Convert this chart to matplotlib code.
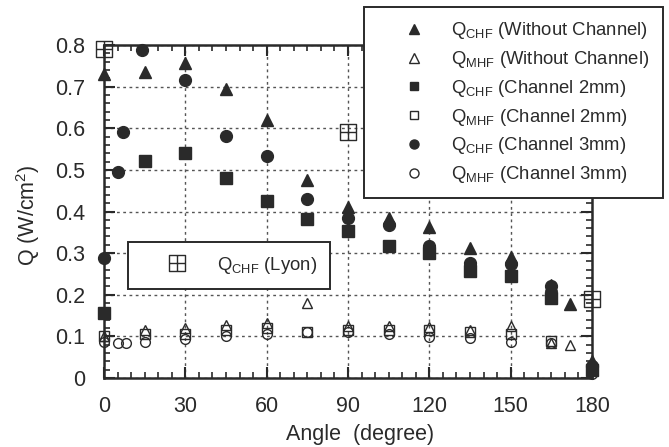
import matplotlib
matplotlib.use("Agg")
import matplotlib.pyplot as plt
from matplotlib.lines import Line2D
from matplotlib.path import Path
from matplotlib.ticker import MultipleLocator, FuncFormatter

# data
ang_wo = [0, 15, 30, 45, 60, 75, 90, 105, 120, 135, 150, 165, 172, 180]
chf_wo = [0.73, 0.735, 0.757, 0.695, 0.62, 0.476, 0.41, 0.385, 0.362, 0.312, 0.29, 0.224, 0.178, 0.04]
mhf_wo = [0.10, 0.115, 0.12, 0.127, 0.133, 0.18, 0.125, 0.125, 0.122, 0.115, 0.125, 0.085, 0.08, 0.02]

ang_2mm = [0, 15, 30, 45, 60, 75, 90, 105, 120, 135, 150, 165, 180]
chf_2mm = [0.155, 0.522, 0.54, 0.481, 0.426, 0.382, 0.352, 0.316, 0.30, 0.256, 0.244, 0.192, 0.02]
mhf_2mm = [0.10, 0.105, 0.105, 0.115, 0.12, 0.111, 0.115, 0.115, 0.115, 0.11, 0.105, 0.09, 0.02]

ang_3mm_chf = [0, 5, 7, 14, 30, 45, 60, 75, 90, 105, 120, 135, 150, 165, 180]
chf_3mm = [0.288, 0.496, 0.59, 0.788, 0.716, 0.582, 0.534, 0.43, 0.384, 0.368, 0.316, 0.276, 0.275, 0.22, 0.03]
ang_3mm_mhf = [0, 5, 8, 15, 30, 45, 60, 75, 90, 105, 120, 135, 150, 165, 180]
mhf_3mm = [0.087, 0.083, 0.083, 0.087, 0.093, 0.10, 0.105, 0.11, 0.11, 0.105, 0.098, 0.095, 0.087, 0.085, 0.01]

ang_lyon = [0, 90, 180]
chf_lyon = [0.79, 0.59, 0.19]

labels = [
    r"Q$_{CHF}$ (Without Channel)",
    r"Q$_{MHF}$ (Without Channel)",
    r"Q$_{CHF}$ (Channel 2mm)",
    r"Q$_{MHF}$ (Channel 2mm)",
    r"Q$_{CHF}$ (Channel 3mm)",
    r"Q$_{MHF}$ (Channel 3mm)",
]
lyon_label = r"Q$_{CHF}$ (Lyon)"

INK = "#2a2a2a"

plt.rcParams["font.family"] = ["Liberation Sans", "DejaVu Sans"]
plt.rcParams["mathtext.default"] = "regular"
plt.rcParams["text.color"] = INK

# square with a cross inside
box_cross = Path(
    [(-1, -1), (1, -1), (1, 1), (-1, 1), (-1, -1), (0, -1), (0, 1), (-1, 0), (1, 0)],
    [Path.MOVETO, Path.LINETO, Path.LINETO, Path.LINETO, Path.CLOSEPOLY,
     Path.MOVETO, Path.LINETO, Path.MOVETO, Path.LINETO],
)

fig = plt.figure(figsize=(6.69, 4.47), dpi=100)
ax = fig.add_axes([104 / 669, 1 - 378 / 447, 488 / 669, 333 / 447])

filled = dict(ls="none", color=INK, clip_on=False, zorder=3)
hollow = dict(ls="none", mfc="none", mec=INK, mew=1.0, clip_on=False, zorder=3)

ax.plot(ang_wo, chf_wo, marker="^", ms=9, **filled)
ax.plot(ang_wo, mhf_wo, marker="^", ms=7, **hollow)
ax.plot(ang_2mm, chf_2mm, marker="s", ms=8.5, **filled)
ax.plot(ang_2mm, mhf_2mm, marker="s", ms=7, **hollow)
ax.plot(ang_3mm_chf, chf_3mm, marker="o", ms=8.5, **filled)
ax.plot(ang_3mm_mhf, mhf_3mm, marker="o", ms=7, **hollow)
ax.plot(ang_lyon, chf_lyon, marker=box_cross, ms=11, **hollow)

ax.set_xlim(0, 180)
ax.set_ylim(0, 0.8)
ax.xaxis.set_major_locator(MultipleLocator(30))
ax.xaxis.set_minor_locator(MultipleLocator(5))
ax.yaxis.set_major_locator(MultipleLocator(0.1))
ax.yaxis.set_minor_locator(MultipleLocator(0.02))
ax.yaxis.set_major_formatter(FuncFormatter(lambda v, _: "0" if abs(v) < 1e-9 else f"{v:.1f}"))

ax.tick_params(which="both", direction="in", top=True, right=True, colors=INK,
               labelsize=15.5)
ax.tick_params(axis="x", which="major", pad=13)
ax.tick_params(axis="y", which="major", pad=13.5)
ax.tick_params(which="major", length=8, width=1.5)
ax.tick_params(which="minor", length=4.5, width=1.2)
for s in ax.spines.values():
    s.set_linewidth(1.8)
    s.set_color(INK)

ax.grid(True, which="major", color="#555555", lw=1.0, dashes=(2, 2.5))
ax.set_axisbelow(True)

ax.set_xlabel("Angle  (degree)", fontsize=15.5, color=INK)
ax.xaxis.set_label_coords((360 - 104) / 488, (378 - 424) / 333)
ax.set_ylabel(r"Q (W/cm$^2$)", fontsize=15.5, color=INK)
ax.yaxis.set_label_coords((42 - 104) / 488, 0.49)

handles = [
    Line2D([], [], marker="^", ms=6.5, ls="none", color=INK),
    Line2D([], [], marker="^", ms=6.5, ls="none", mfc="none", mec=INK),
    Line2D([], [], marker="s", ms=6, ls="none", color=INK),
    Line2D([], [], marker="s", ms=6, ls="none", mfc="none", mec=INK),
    Line2D([], [], marker="o", ms=6.5, ls="none", color=INK),
    Line2D([], [], marker="o", ms=6.5, ls="none", mfc="none", mec=INK),
]
leg = ax.legend(handles, labels, loc="upper left",
                bbox_to_anchor=(364 / 669, 1 - 7 / 447), bbox_transform=fig.transFigure,
                borderaxespad=0, fontsize=13.3, fancybox=False, framealpha=1,
                edgecolor=INK, labelspacing=0.42, handletextpad=0.0,
                borderpad=0.72, handlelength=4.0)
leg.get_frame().set_linewidth(1.4)
ax.add_artist(leg)

lyon_handle = Line2D([], [], marker=box_cross, ms=11, ls="none", mfc="none", mec=INK)
leg2 = ax.legend([lyon_handle], [lyon_label], loc="upper left",
                 bbox_to_anchor=(128 / 669, 1 - 242 / 447), bbox_transform=fig.transFigure,
                 borderaxespad=0, fontsize=13.3, fancybox=False, framealpha=1,
                 edgecolor=INK, handletextpad=0.2, borderpad=0.7, handlelength=3.9)
leg2.get_frame().set_linewidth(1.4)

fig.savefig("out.png", dpi=100)
